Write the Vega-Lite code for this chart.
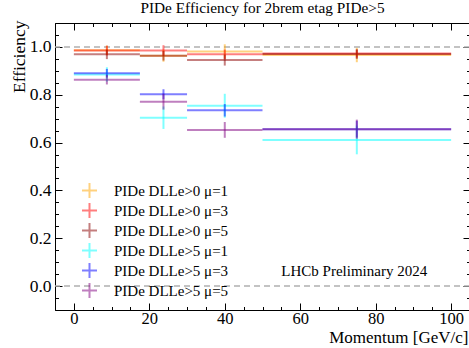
{
  "$schema": "https://vega.github.io/schema/vega-lite/v6.json",
  "autosize": {"type": "none"},
  "padding": {"left": 55, "top": 23, "right": 0, "bottom": 38},
  "width": 415,
  "height": 287,
  "background": "white",
  "title": {"text": "PIDe Efficiency for 2brem etag PIDe>5", "font": "Liberation Serif", "fontSize": 15.3, "fontWeight": "normal", "color": "black", "offset": 4, "anchor": "middle"},
  "config": {
    "view": {"stroke": null},
    "axis": {"labelFont": "Liberation Serif", "titleFont": "Liberation Serif", "labelFontSize": 17.5, "titleFontSize": 17.5, "titleFontWeight": "normal", "labelColor": "black", "titleColor": "black", "domainColor": "black", "tickColor": "black", "grid": false, "domainWidth": 1, "tickWidth": 1}
  },
  "datasets": {
    "pts": [
      {"series": "PIDe DLLe>0 μ=1", "p": 8.75, "plo": 0, "phi": 17.5, "eff": 0.986, "elo": 0.966, "ehi": 1.006},
      {"series": "PIDe DLLe>0 μ=1", "p": 23.75, "plo": 17.5, "phi": 30, "eff": 0.963, "elo": 0.938, "ehi": 0.988},
      {"series": "PIDe DLLe>0 μ=1", "p": 40, "plo": 30, "phi": 50, "eff": 0.981, "elo": 0.951, "ehi": 1.011},
      {"series": "PIDe DLLe>0 μ=1", "p": 75, "plo": 50, "phi": 100, "eff": 0.966, "elo": 0.936, "ehi": 0.996},
      {"series": "PIDe DLLe>0 μ=3", "p": 8.75, "plo": 0, "phi": 17.5, "eff": 0.985, "elo": 0.965, "ehi": 1.005},
      {"series": "PIDe DLLe>0 μ=3", "p": 23.75, "plo": 17.5, "phi": 30, "eff": 0.985, "elo": 0.963, "ehi": 1.007},
      {"series": "PIDe DLLe>0 μ=3", "p": 40, "plo": 30, "phi": 50, "eff": 0.969, "elo": 0.949, "ehi": 0.989},
      {"series": "PIDe DLLe>0 μ=3", "p": 75, "plo": 50, "phi": 100, "eff": 0.972, "elo": 0.955, "ehi": 0.989},
      {"series": "PIDe DLLe>0 μ=5", "p": 8.75, "plo": 0, "phi": 17.5, "eff": 0.969, "elo": 0.949, "ehi": 0.989},
      {"series": "PIDe DLLe>0 μ=5", "p": 23.75, "plo": 17.5, "phi": 30, "eff": 0.963, "elo": 0.943, "ehi": 0.983},
      {"series": "PIDe DLLe>0 μ=5", "p": 40, "plo": 30, "phi": 50, "eff": 0.945, "elo": 0.922, "ehi": 0.968},
      {"series": "PIDe DLLe>0 μ=5", "p": 75, "plo": 50, "phi": 100, "eff": 0.970, "elo": 0.950, "ehi": 0.990},
      {"series": "PIDe DLLe>5 μ=1", "p": 8.75, "plo": 0, "phi": 17.5, "eff": 0.885, "elo": 0.855, "ehi": 0.915},
      {"series": "PIDe DLLe>5 μ=1", "p": 23.75, "plo": 17.5, "phi": 30, "eff": 0.704, "elo": 0.657, "ehi": 0.751},
      {"series": "PIDe DLLe>5 μ=1", "p": 40, "plo": 30, "phi": 50, "eff": 0.754, "elo": 0.704, "ehi": 0.804},
      {"series": "PIDe DLLe>5 μ=1", "p": 75, "plo": 50, "phi": 100, "eff": 0.611, "elo": 0.551, "ehi": 0.671},
      {"series": "PIDe DLLe>5 μ=3", "p": 8.75, "plo": 0, "phi": 17.5, "eff": 0.89, "elo": 0.872, "ehi": 0.908},
      {"series": "PIDe DLLe>5 μ=3", "p": 23.75, "plo": 17.5, "phi": 30, "eff": 0.802, "elo": 0.781, "ehi": 0.823},
      {"series": "PIDe DLLe>5 μ=3", "p": 40, "plo": 30, "phi": 50, "eff": 0.735, "elo": 0.709, "ehi": 0.761},
      {"series": "PIDe DLLe>5 μ=3", "p": 75, "plo": 50, "phi": 100, "eff": 0.656, "elo": 0.621, "ehi": 0.691},
      {"series": "PIDe DLLe>5 μ=5", "p": 8.75, "plo": 0, "phi": 17.5, "eff": 0.863, "elo": 0.843, "ehi": 0.883},
      {"series": "PIDe DLLe>5 μ=5", "p": 23.75, "plo": 17.5, "phi": 30, "eff": 0.771, "elo": 0.738, "ehi": 0.804},
      {"series": "PIDe DLLe>5 μ=5", "p": 40, "plo": 30, "phi": 50, "eff": 0.653, "elo": 0.620, "ehi": 0.686},
      {"series": "PIDe DLLe>5 μ=5", "p": 75, "plo": 50, "phi": 100, "eff": 0.656, "elo": 0.616, "ehi": 0.696}
    ],
    "refs": [{"level": 1.0}, {"level": 0.0}],
    "note": [{"x": 55, "y": 0.064, "label": "LHCb Preliminary 2024"}]
  },
  "resolve": {"axis": {"x": "independent", "y": "independent"}},
  "layer": [
    {
      "data": {"name": "refs"},
      "mark": {"type": "rule", "color": "#b0b0b0", "strokeDash": [6, 4], "strokeWidth": 1.5},
      "encoding": {
        "y": {"field": "level", "type": "quantitative", "scale": {"domain": [-0.1, 1.1], "nice": false, "zero": false},
              "axis": {"orient": "right", "values": [-0.1, -0.05, 0.05, 0.1, 0.15, 0.25, 0.3, 0.35, 0.45, 0.5, 0.55, 0.65, 0.7, 0.75, 0.85, 0.9, 0.95, 1.05, 1.1], "tickSize": -3.5, "labels": false, "domain": false, "title": null}}
      }
    },
    {
      "data": {"name": "pts"},
      "mark": {"type": "rule", "strokeWidth": 2, "opacity": 0.5},
      "encoding": {
        "x": {"field": "plo", "type": "quantitative", "scale": {"domain": [-5, 105], "nice": false, "zero": false},
              "axis": {"orient": "bottom", "values": [0, 20, 40, 60, 80, 100], "tickSize": -7, "labelPadding": 7.5, "labelFontSize": 16.5, "title": "Momentum [GeV/c]", "titleFontSize": 17, "titleAnchor": "end", "titleAlign": "right", "titleBaseline": "alphabetic", "titleY": 32.5, "titleX": 413}},
        "x2": {"field": "phi"},
        "y": {"field": "eff", "type": "quantitative", "scale": {"domain": [-0.1, 1.1], "nice": false, "zero": false},
              "axis": {"orient": "left", "values": [0, 0.2, 0.4, 0.6, 0.8, 1.0], "format": ".1f", "tickSize": -7, "labelPadding": 11, "title": "Efficiency", "titleAngle": -90, "titleAlign": "right", "titleBaseline": "alphabetic", "titleX": -31, "titleY": -3}},
        "color": {"field": "series", "type": "nominal",
                  "scale": {"domain": ["PIDe DLLe>0 μ=1", "PIDe DLLe>0 μ=3", "PIDe DLLe>0 μ=5", "PIDe DLLe>5 μ=1", "PIDe DLLe>5 μ=3", "PIDe DLLe>5 μ=5"],
                            "range": ["#FFA500", "#FF0000", "#8B0000", "#00FFFF", "#0000FF", "#800080"]},
                  "legend": {"orient": "none", "legendX": 26, "legendY": 159, "title": null, "padding": 0, "symbolType": "M-1,0H1M0,-1V1", "symbolSize": 225, "symbolStrokeWidth": 2, "symbolOpacity": 0.5, "labelFont": "Liberation Serif", "labelFontSize": 15, "labelColor": "black", "labelOffset": 16, "rowPadding": -4.4, "labelLimit": 300}}
      }
    },
    {
      "data": {"name": "pts"},
      "mark": {"type": "rule", "strokeWidth": 2, "opacity": 0.5},
      "encoding": {
        "x": {"field": "p", "type": "quantitative",
              "axis": {"orient": "top", "values": [0, 20, 40, 60, 80, 100], "tickSize": -7, "labels": false, "title": null}},
        "y": {"field": "elo", "type": "quantitative",
              "axis": {"orient": "right", "values": [0, 0.2, 0.4, 0.6, 0.8, 1.0], "tickSize": -7, "labels": false, "title": null}},
        "y2": {"field": "ehi"},
        "color": {"field": "series", "type": "nominal", "legend": null}
      }
    },
    {
      "data": {"name": "note"},
      "mark": {"type": "text", "align": "left", "baseline": "middle", "font": "Liberation Serif", "fontSize": 15, "color": "black"},
      "encoding": {
        "x": {"field": "x", "type": "quantitative",
              "axis": {"orient": "bottom", "values": [-5, 5, 10, 15, 25, 30, 35, 45, 50, 55, 65, 70, 75, 85, 90, 95, 105], "tickSize": -3.5, "labels": false, "domain": false, "title": null}},
        "y": {"field": "y", "type": "quantitative",
              "axis": {"orient": "left", "values": [-0.1, -0.05, 0.05, 0.1, 0.15, 0.25, 0.3, 0.35, 0.45, 0.5, 0.55, 0.65, 0.7, 0.75, 0.85, 0.9, 0.95, 1.05, 1.1], "tickSize": -3.5, "labels": false, "domain": false, "title": null}},
        "text": {"field": "label", "type": "nominal"}
      }
    },
    {
      "data": {"name": "note"},
      "mark": {"type": "text", "opacity": 0},
      "encoding": {
        "x": {"field": "x", "type": "quantitative",
              "axis": {"orient": "top", "values": [-5, 5, 10, 15, 25, 30, 35, 45, 50, 55, 65, 70, 75, 85, 90, 95, 105], "tickSize": -3.5, "labels": false, "domain": false, "title": null}},
        "y": {"field": "y", "type": "quantitative", "axis": null},
        "text": {"field": "label", "type": "nominal"}
      }
    }
  ]
}
